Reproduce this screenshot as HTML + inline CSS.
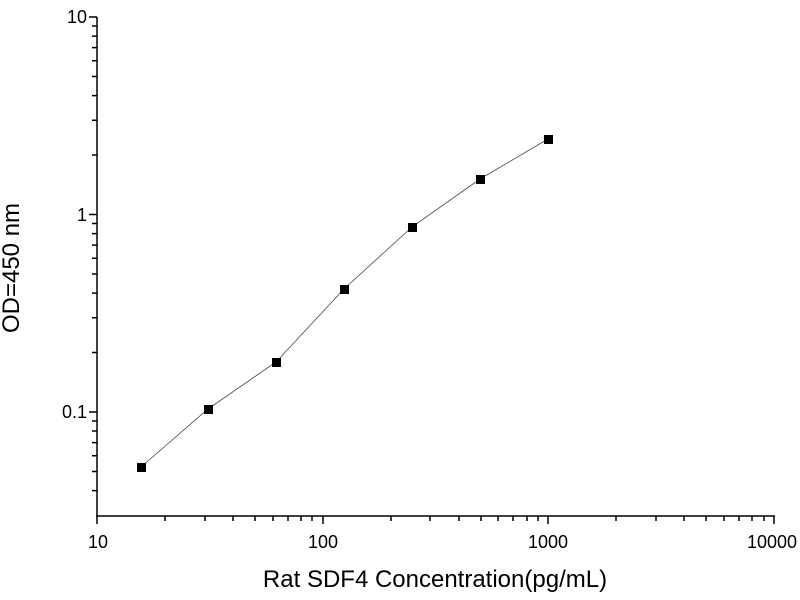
<!DOCTYPE html>
<html><head><style>body{margin:0;background:#fff}svg{display:block}text{font-family:"Liberation Sans",Arial,sans-serif;fill:#000}</style></head>
<body>
<svg width="800" height="600" viewBox="0 0 800 600">
<g stroke="#000" stroke-width="1.5" fill="none">
<path d="M97,17V516M96,516H775"/>
<path d="M97,516v8M323,516v8M548,516v8M774,516v8M97,17h-8M97,214.5h-8M97,412h-8"/>
<path d="M165,516v5M205,516v5M233,516v5M255,516v5M273,516v5M288,516v5M301,516v5M312,516v5
M391,516v5M430,516v5M459,516v5M481,516v5M498,516v5M513,516v5M527,516v5M538,516v5
M616,516v5M656,516v5M684,516v5M706,516v5M724,516v5M739,516v5M752,516v5M764,516v5
M97,490.6h-5M97,471.5h-5M97,455.8h-5M97,442.6h-5M97,431h-5M97,421h-5
M97,352.5h-5M97,317.8h-5M97,293.1h-5M97,274h-5M97,258.3h-5M97,245.1h-5M97,233.6h-5M97,223.5h-5
M97,155h-5M97,120.3h-5M97,95.6h-5M97,76.5h-5M97,60.8h-5M97,47.6h-5M97,36.1h-5M97,26h-5"/>
</g>
<polyline points="141,467 208,409 276,362 344,289 412,227 480,179 548,139" fill="none" stroke="#444" stroke-width="0.8"/>
<g fill="#000">
<rect x="137" y="463" width="9" height="9"/><rect x="204" y="405" width="9" height="9"/>
<rect x="272" y="358" width="9" height="9"/><rect x="340" y="285" width="9" height="9"/>
<rect x="408" y="223" width="9" height="9"/><rect x="476" y="175" width="9" height="9"/>
<rect x="544" y="135" width="9" height="9"/>
</g>
<g font-size="18" text-anchor="middle">
<text x="98" y="548">10</text><text x="323" y="548">100</text><text x="548" y="548">1000</text><text x="772" y="548">10000</text>
</g>
<g font-size="18" text-anchor="end">
<text x="87" y="23">10</text><text x="87" y="221">1</text><text x="87" y="418">0.1</text>
</g>
<text x="435" y="587" font-size="24" text-anchor="middle">Rat SDF4 Concentration(pg/mL)</text>
<text transform="translate(19,268) rotate(-90)" font-size="24" text-anchor="middle">OD=450 nm</text>
</svg>
</body></html>
